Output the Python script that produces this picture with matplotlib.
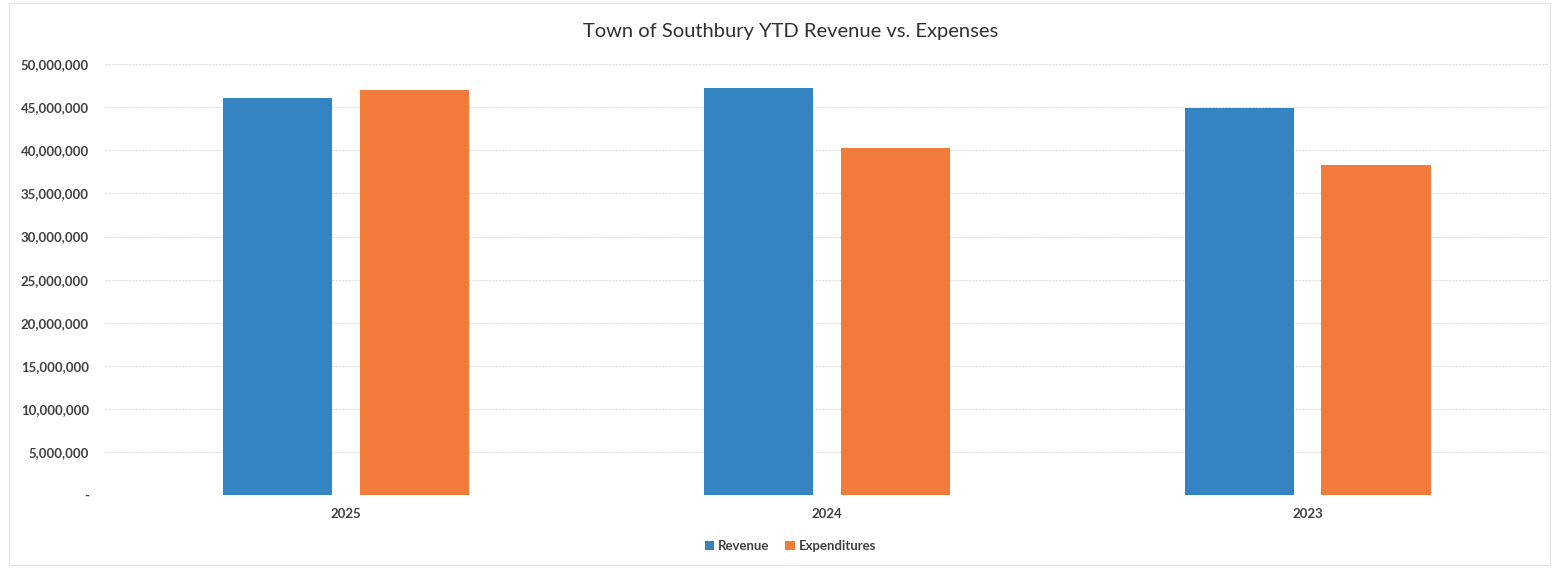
#!/usr/bin/env python3
"""Town of Southbury YTD revenue vs. expenses, grouped bar chart."""
import matplotlib
matplotlib.use("Agg")
import matplotlib.pyplot as plt
from matplotlib.ticker import FuncFormatter, MultipleLocator
from matplotlib.patches import Rectangle
import numpy as np

years = ["2025", "2024", "2023"]
revenue = [46_100_000, 47_200_000, 44_900_000]
expenditures = [47_000_000, 40_300_000, 38_250_000]

COLORS = {
    "revenue": "#3484c2",
    "expenditures": "#f07b3b",
    "text": "#404040",
    "grid": "#dedede",
}

plt.rcParams["font.family"] = ["Lato", "DejaVu Sans"]


def fmt_millions(v, pos):
    if v == 0:
        return "-"
    return f"{v:,.0f}"


def main():
    fig = plt.figure(figsize=(15.56, 5.68), dpi=100)
    ax = fig.add_axes([0.0678, 0.1285, 0.9272, 0.7585])

    x = np.arange(len(years))
    width = 0.227
    offset = 0.142
    ax.bar(x - offset, revenue, width, color=COLORS["revenue"], label="Revenue", zorder=3)
    ax.bar(x + offset, expenditures, width, color=COLORS["expenditures"], label="Expenditures", zorder=3)

    ax.set_xlim(-0.5, len(years) - 0.5)
    ax.set_ylim(0, 50_000_000)
    ax.yaxis.set_major_locator(MultipleLocator(5_000_000))
    ax.yaxis.set_major_formatter(FuncFormatter(fmt_millions))
    ax.set_xticks(x)
    ax.set_xticklabels(years)

    ax.grid(axis="y", color=COLORS["grid"], linewidth=0.8, linestyle=(0, (2, 1)), zorder=0)
    for s in ax.spines.values():
        s.set_visible(False)
    ax.tick_params(axis="both", length=0, labelsize=9.5, labelcolor=COLORS["text"])
    ax.tick_params(axis="y", pad=12)
    ax.tick_params(axis="x", pad=9)
    for lbl in ax.get_xticklabels() + ax.get_yticklabels():
        lbl.set_fontweight("bold")

    fig.text(0.508, 0.944, "Town of Southbury YTD Revenue vs. Expenses",
             ha="center", va="center", fontsize=14.5, color="#303030")

    leg = fig.legend(loc="center", bbox_to_anchor=(0.508, 0.039), ncol=2, frameon=False,
                     fontsize=9.5, handlelength=0.7, handleheight=0.7, handletextpad=0.3,
                     columnspacing=1.2)
    for t in leg.get_texts():
        t.set_color(COLORS["text"])
        t.set_fontweight("bold")

    # faint outer border of the chart area
    fig.patches.append(Rectangle((0.006, 0.006), 0.99, 0.988, transform=fig.transFigure,
                                 fill=False, edgecolor="#e6e6e6", linewidth=0.8))

    fig.savefig("out.png", dpi=100)
    plt.close(fig)


if __name__ == "__main__":
    main()
